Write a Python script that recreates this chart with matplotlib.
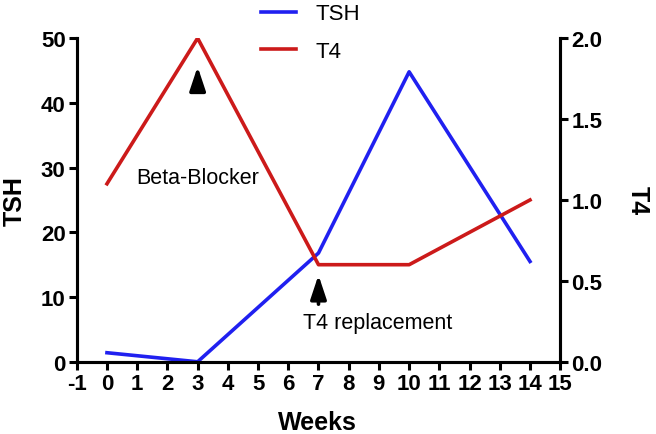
import numpy as np
import matplotlib.pyplot as plt

plt.rcParams['font.family'] = ['Liberation Sans', 'DejaVu Sans']
plt.rcParams['axes.unicode_minus'] = False

weeks = [0, 3, 7, 10, 14]
tsh = [1.4, 0.0, 16.8, 44.8, 15.5]
t4 = [1.1, 2.0, 0.6, 0.6, 1.0]

x_ticks = list(range(-1, 16))
tsh_ticks = [0, 10, 20, 30, 40, 50]
t4_ticks = [0.0, 0.5, 1.0, 1.5, 2.0]

fig = plt.figure(figsize=(6.56, 4.35), dpi=100)
ax = fig.add_axes([0.117, 0.166, 0.737, 0.744])
ax2 = ax.twinx()

l1, = ax.plot(weeks, tsh, color='#2020f0', lw=2.6, label='TSH')
l2, = ax2.plot(weeks, t4, color='#cc1a1a', lw=2.6, label='T4')

ax.set_xlim(-1, 15)
ax.set_ylim(0, 50)
ax2.set_ylim(0, 2.0)
ax.set_xticks(x_ticks)
ax.set_yticks(tsh_ticks)
ax2.set_yticks(t4_ticks)
ax2.set_yticklabels(['%.1f' % v for v in t4_ticks])

for a in (ax, ax2):
    a.spines['top'].set_visible(False)
    for s in ('left', 'right', 'bottom'):
        a.spines[s].set_linewidth(2.2)
    a.tick_params(width=2.2, length=6, labelsize=16, pad=2)
    for lab in a.get_xticklabels() + a.get_yticklabels():
        lab.set_fontweight('bold')

ax.set_xlabel('Weeks', fontsize=18, fontweight='bold')
ax.set_ylabel('TSH', fontsize=18, fontweight='bold')
ax2.set_ylabel('T4', fontsize=18, fontweight='bold', rotation=270)
ax.xaxis.set_label_coords(0.498, -0.186)
ax.yaxis.set_label_coords(-0.128, 0.5)
ax2.yaxis.set_label_coords(1.161, 0.5)
ax.xaxis.label.set_va('center')
ax.yaxis.label.set_va('center')
ax2.yaxis.label.set_va('center')

# arrows and notes
arrow = dict(arrowstyle='-|>,head_length=0.72,head_width=0.24', color='black',
             lw=2.6, mutation_scale=20, shrinkA=0, shrinkB=0)
ax.annotate('', xy=(3, 45.6), xytext=(3, 41.7), arrowprops=arrow)
ax.annotate('', xy=(7, 13.4), xytext=(7, 8.9), arrowprops=arrow)
ax.text(3, 28.5, 'Beta-Blocker', fontsize=15.5, ha='center', va='center')
ax.text(6.48, 6.0, 'T4 replacement', fontsize=15.5, ha='left', va='center')

fig.legend(handles=[l1, l2], loc='upper left', bbox_to_anchor=(261 / 656, 0.99),
           frameon=False, fontsize=16, handlelength=1.58, handletextpad=0.85,
           labelspacing=0.75, borderpad=0, borderaxespad=0)

fig.savefig('out.png', dpi=100)
